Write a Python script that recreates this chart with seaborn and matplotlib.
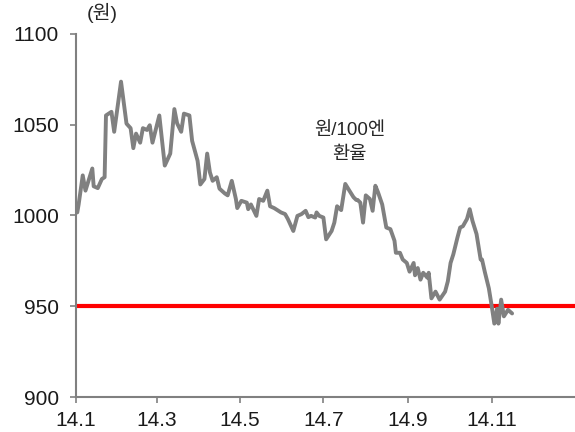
"""원/100엔 환율 line chart (2014), with the 950 won line marked in red."""
import matplotlib
matplotlib.use("Agg")
import matplotlib.pyplot as plt
import pandas as pd
import seaborn as sns

# Values (won per 100 yen).
DATES = [
    "2014-01-02", "2014-01-03", "2014-01-06", "2014-01-08", "2014-01-13",
    "2014-01-14", "2014-01-17", "2014-01-20", "2014-01-22", "2014-01-23",
    "2014-01-27", "2014-01-29", "2014-02-03", "2014-02-07", "2014-02-10",
    "2014-02-12", "2014-02-14", "2014-02-17", "2014-02-19", "2014-02-22",
    "2014-02-24", "2014-02-26", "2014-03-03", "2014-03-07", "2014-03-11",
    "2014-03-14", "2014-03-16", "2014-03-19", "2014-03-21", "2014-03-25",
    "2014-03-27", "2014-03-31", "2014-04-02", "2014-04-05", "2014-04-07",
    "2014-04-09", "2014-04-11", "2014-04-14", "2014-04-16", "2014-04-20",
    "2014-04-22", "2014-04-25", "2014-04-28", "2014-04-29", "2014-05-02",
    "2014-05-06", "2014-05-07", "2014-05-09", "2014-05-13", "2014-05-15",
    "2014-05-18", "2014-05-21", "2014-05-23", "2014-05-26", "2014-05-31",
    "2014-06-03", "2014-06-05", "2014-06-09", "2014-06-12", "2014-06-15",
    "2014-06-18", "2014-06-20", "2014-06-22", "2014-06-25", "2014-06-26",
    "2014-06-28", "2014-07-01", "2014-07-03", "2014-07-07", "2014-07-09",
    "2014-07-11", "2014-07-14", "2014-07-17", "2014-07-20", "2014-07-23",
    "2014-07-25", "2014-07-26", "2014-07-28", "2014-07-30", "2014-08-01",
    "2014-08-04", "2014-08-06", "2014-08-08", "2014-08-10", "2014-08-13",
    "2014-08-16", "2014-08-19", "2014-08-22", "2014-08-23", "2014-08-26",
    "2014-08-28", "2014-08-31", "2014-09-02", "2014-09-05", "2014-09-06",
    "2014-09-08", "2014-09-10", "2014-09-12", "2014-09-15", "2014-09-16",
    "2014-09-18", "2014-09-21", "2014-09-24", "2014-09-28", "2014-09-30",
    "2014-10-02", "2014-10-04", "2014-10-07", "2014-10-09", "2014-10-11",
    "2014-10-14", "2014-10-16", "2014-10-18", "2014-10-21", "2014-10-24",
    "2014-10-25", "2014-10-27", "2014-10-30", "2014-11-01", "2014-11-03",
    "2014-11-05", "2014-11-06", "2014-11-08", "2014-11-10", "2014-11-13",
    "2014-11-16",
]
WON_PER_100YEN = [
    1001.6, 1006.0, 1022.0, 1013.6, 1025.8,
    1016.0, 1015.0, 1020.0, 1021.0, 1055.0,
    1057.0, 1046.0, 1073.6, 1050.5, 1048.0,
    1037.0, 1045.0, 1040.0, 1048.0, 1047.0,
    1049.6, 1040.0, 1055.0, 1027.4, 1034.0,
    1058.5, 1050.7, 1046.0, 1056.0, 1055.0,
    1041.0, 1030.0, 1017.0, 1020.0, 1034.0,
    1023.7, 1019.0, 1021.0, 1014.7, 1012.0,
    1011.0, 1019.0, 1009.0, 1004.0, 1008.0,
    1007.0, 1003.4, 1006.0, 999.7, 1009.0,
    1008.0, 1013.6, 1005.0, 1004.0, 1001.6,
    1000.7, 998.0, 991.4, 999.7, 1000.7,
    1002.5, 999.0, 999.7, 998.8, 1001.6,
    999.7, 998.8, 986.8, 991.4, 996.0,
    1005.0, 1002.9, 1017.3, 1013.6, 1010.0,
    1008.5, 1008.5, 1007.0, 996.0, 1011.0,
    1009.0, 1002.5, 1016.3, 1012.6, 1006.0,
    993.3, 992.4, 986.0, 979.4, 979.4,
    975.7, 973.8, 969.0, 973.8, 967.0,
    971.0, 964.6, 968.4, 965.7, 968.4,
    954.3, 958.0, 953.6, 958.0, 963.7,
    973.8, 978.5, 987.7, 993.3, 994.0,
    998.0, 1003.4, 997.0, 989.7, 975.7,
    975.7, 969.0, 959.8, 950.5, 940.4,
    948.6, 940.4, 953.6, 944.4, 948.0,
    946.0,
]

THRESHOLD = 950
TICK_DATES = ["2014-01-01", "2014-03-01", "2014-05-01", "2014-07-01",
              "2014-09-01", "2014-11-01"]
TICK_LABELS = ["14.1", "14.3", "14.5", "14.7", "14.9", "14.11"]
Y_TICKS = [900, 950, 1000, 1050, 1100]

sns.set_style("ticks")
plt.rcParams["font.family"] = ["Liberation Sans", "Noto Sans CJK KR"]

df = pd.DataFrame({"date": pd.to_datetime(DATES), "rate": WON_PER_100YEN})

fig = plt.figure(figsize=(5.75, 4.32), dpi=100)
ax = fig.add_axes([0.132, 0.081, 0.868, 0.841])

ax.axhline(THRESHOLD, color="#ff0000", lw=3.0, zorder=1)
sns.lineplot(data=df, x="date", y="rate", ax=ax, color="#808080",
             lw=2.8, zorder=2)

ax.set_xlim(pd.Timestamp("2014-01-01"), pd.Timestamp("2015-01-01"))
ax.set_ylim(900, 1100)
ax.set_xticks(pd.to_datetime(TICK_DATES))
ax.set_xticklabels(TICK_LABELS)
ax.set_yticks(Y_TICKS)
ax.set_xlabel("")
ax.set_ylabel("")

for side in ("top", "right"):
    ax.spines[side].set_visible(False)
for side in ("left", "bottom"):
    ax.spines[side].set_color("#808080")
    ax.spines[side].set_linewidth(1.5)
ax.tick_params(axis="both", colors="#808080", labelcolor="#1a1a1a",
               labelsize=15, length=4.3, width=1.2)
ax.tick_params(axis="y", pad=8)
ax.tick_params(axis="x", pad=6)

ax.text(pd.Timestamp("2014-07-20"), 1040, "원/100엔\n환율",
        ha="center", va="center", fontsize=13.5, linespacing=1.5)
ax.text(0.022, 1.03, "(원)", transform=ax.transAxes,
        ha="left", va="bottom", fontsize=14)

fig.savefig("out.png", dpi=100)
